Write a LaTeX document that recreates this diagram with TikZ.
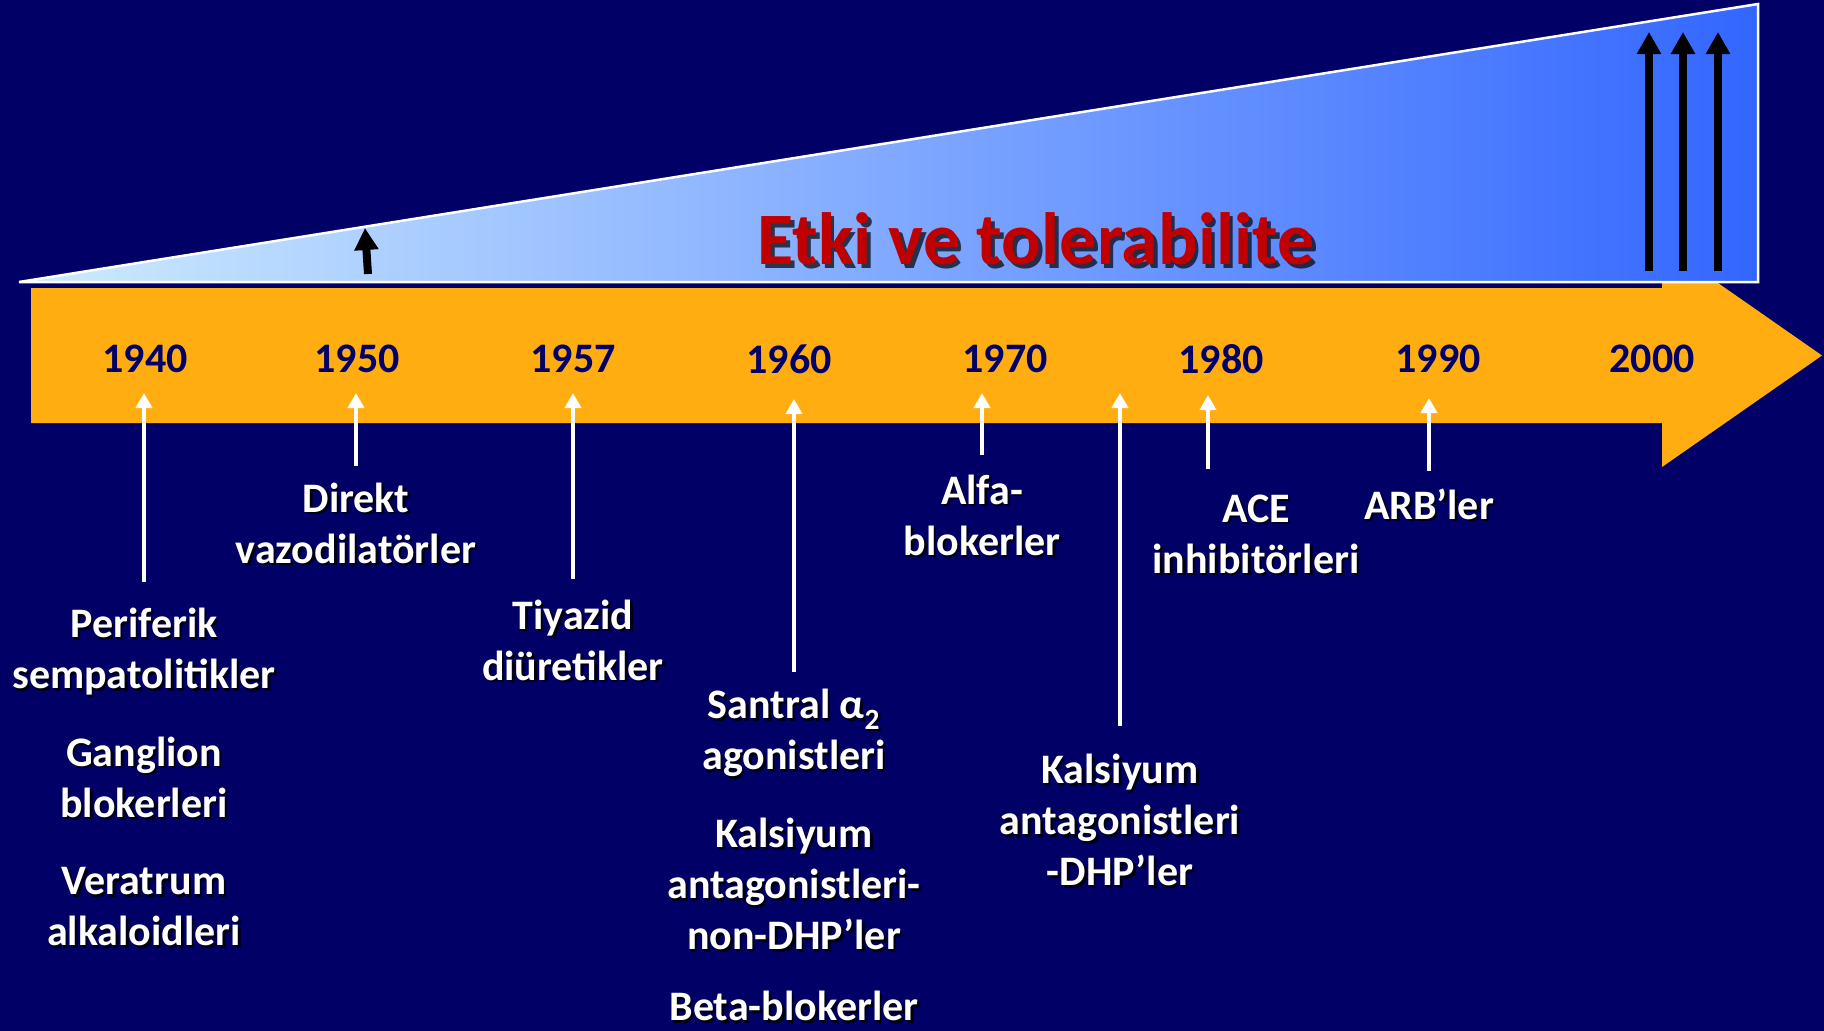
\documentclass[tikz,border=0pt]{standalone}
\usepackage{fontspec}
\setmainfont{Carlito}
\usetikzlibrary{arrows.meta}

\definecolor{navy}{RGB}{0,0,102}
\definecolor{barorange}{RGB}{255,173,17}
\definecolor{titlered}{RGB}{192,0,0}
\definecolor{skylight}{RGB}{206,236,255}
\definecolor{skymid}{RGB}{152,182,255}
\definecolor{deepblue}{RGB}{51,102,255}

\tikzset{
  lbl/.style={text=white, font=\fontsize{42}{51}\selectfont\bfseries,
    align=center, inner sep=0pt},
  lblshadow/.style={lbl, text=black, text opacity=0.8, xshift=2.5pt, yshift=-2.5pt},
  yearlbl/.style={text=navy, font=\fontsize{42}{51}\selectfont\bfseries, inner sep=0pt},
  titlelbl/.style={text=titlered, font=\fontsize{74}{88}\selectfont\bfseries, inner sep=0pt},
  titleshadow/.style={titlelbl, text=black, text opacity=0.7, xshift=3.5pt, yshift=-3.5pt},
  warrow/.style={draw=white, line width=4pt,
    -{Triangle[width=16pt,length=15pt]}},
  barrow/.style={draw=black, line width=8pt,
    -{Triangle[width=23pt,length=22pt]}},
}

% label with a soft drop shadow
\newcommand\druglabel[4]{%
  \node[lblshadow] (#1-sh) at (#2,#3) {#4};
  \node[lbl] (#1) at (#2,#3) {#4};}

\begin{document}
\begin{tikzpicture}[x=1pt,y=-1pt]
% background
\fill[navy] (0,0) rectangle (1824,1031);
\useasboundingbox (0,0) rectangle (1824,1031);

% orange time arrow
\fill[barorange] (31,288) -- (1662,288) -- (1662,244) -- (1822,355.5)
  -- (1662,467) -- (1662,423) -- (31,423) -- cycle;

% rising wedge
\shade[left color=skylight, middle color=skymid, right color=deepblue]
  (19,282) -- (1758,4) -- (1758,282) -- cycle;
\draw[white, line width=2.5pt, line join=miter] (19,282) -- (1758,4) -- (1758,282) -- cycle;

% title
\node[titleshadow] (title-sh) at (1036,239) {Etki ve tolerabilite};
\node[titlelbl] (title) at (1036,239) {Etki ve tolerabilite};

% effect arrows inside the wedge
\coordinate (smallS) at (368,274);
\coordinate (smallE) at (365,228);
\draw[barrow] (smallS) -- (smallE);
\foreach \i/\x in {1/1649,2/1683,3/1718}{
  \coordinate (bigS\i) at (\x,271);
  \coordinate (bigE\i) at (\x,32);
  \draw[barrow] (bigS\i) -- (bigE\i);
}

% years
\node[yearlbl] (y1940) at (145,359) {1940};
\node[yearlbl] (y1950) at (357,359) {1950};
\node[yearlbl] (y1957) at (573,359) {1957};
\node[yearlbl] (y1960) at (789,359) {1960};
\node[yearlbl] (y1970) at (1005,359) {1970};
\node[yearlbl] (y1980) at (1221,359) {1980};
\node[yearlbl] (y1990) at (1438,359) {1990};
\node[yearlbl] (y2000) at (1652,359) {2000};

% drug classes
\druglabel{perif}{144}{652}{Periferik\\sempatolitikler}
\druglabel{gang}{144}{777}{Ganglion\\blokerleri}
\druglabel{verat}{144}{907}{Veratrum\\alkaloidleri}
\druglabel{direkt}{356}{523}{Direkt\\vazodilatörler}
\druglabel{tiyazid}{573}{640}{Tiyazid\\diüretikler}
\druglabel{santral}{794}{733}{Santral α\textsubscript{2}\\agonistleri}
\druglabel{kalsnon}{794}{884}{Kalsiyum\\antagonistleri-\\non-DHP’ler}
\druglabel{beta}{794}{1006}{Beta-blokerler}
\druglabel{alfa}{982}{515}{Alfa-\\blokerler}
\druglabel{kalsdhp}{1120}{820}{Kalsiyum\\antagonistleri\\-DHP’ler}
\druglabel{ace}{1256}{534}{ACE\\inhibitörleri}
\druglabel{arb}{1429}{504}{ARB’ler}

% pointers from the drug classes up to the time axis
\foreach \n/\x/\top/\bot in {perif/144/393/582, direkt/356/393/466,
    tiyazid/573/393/579, santral/794/399/672, alfa/982/393/455,
    kalsdhp/1120/393/726, ace/1208/395/469, arb/1429/398/471}{
  \coordinate (\n-from) at (\x,\bot);
  \coordinate (\n-to) at (\x,\top);
  \draw[warrow] (\n-from) -- (\n-to);
}
\end{tikzpicture}
\end{document}
